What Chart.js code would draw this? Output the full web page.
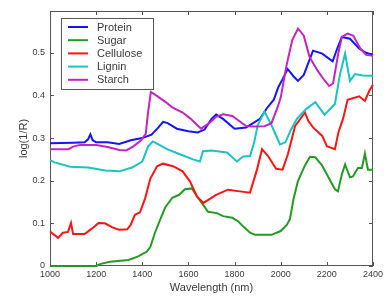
<!DOCTYPE html>
<html>
<head>
<meta charset="utf-8">
<script src="https://cdn.jsdelivr.net/npm/chart.js@4"></script>
<style>
  html, body { margin: 0; padding: 0; background: #fff; }
  #wrap { width: 387px; height: 298px; position: relative; }
</style>
</head>
<body>
<div id="wrap"><canvas id="chart"></canvas></div>
<script>
// Spectra (wavelength in nm, log(1/R))
const proteinNm = [1000, 1100, 1150, 1165, 1175, 1185, 1200, 1250, 1300, 1350, 1400, 1440, 1470, 1490, 1510, 1550, 1600, 1640, 1670, 1700, 1720, 1750, 1800, 1850, 1880, 1910, 1940, 1970, 1990, 2010, 2030, 2055, 2075, 2100, 2140, 2180, 2225, 2245, 2265, 2300, 2340, 2370, 2400];
const proteinVal = [0.288, 0.289, 0.29, 0.297, 0.309, 0.295, 0.29, 0.29, 0.286, 0.295, 0.3, 0.308, 0.325, 0.338, 0.335, 0.322, 0.316, 0.313, 0.32, 0.345, 0.355, 0.345, 0.322, 0.325, 0.335, 0.345, 0.37, 0.39, 0.42, 0.44, 0.462, 0.445, 0.434, 0.448, 0.505, 0.498, 0.48, 0.51, 0.537, 0.533, 0.51, 0.5, 0.495];

const sugarNm = [1000, 1200, 1220, 1260, 1340, 1380, 1420, 1435, 1455, 1477, 1500, 1530, 1560, 1585, 1615, 1637, 1663, 1685, 1723, 1750, 1790, 1815, 1837, 1867, 1890, 1960, 2000, 2027, 2040, 2055, 2075, 2105, 2127, 2150, 2179, 2205, 2235, 2248, 2265, 2279, 2300, 2313, 2335, 2352, 2365, 2378, 2400];
const sugarVal = [0, 0, 0.005, 0.01, 0.014, 0.022, 0.034, 0.045, 0.078, 0.108, 0.138, 0.16, 0.167, 0.18, 0.182, 0.163, 0.144, 0.127, 0.124, 0.117, 0.113, 0.105, 0.093, 0.078, 0.073, 0.073, 0.082, 0.097, 0.11, 0.156, 0.2, 0.236, 0.256, 0.255, 0.236, 0.21, 0.18, 0.175, 0.215, 0.238, 0.208, 0.21, 0.23, 0.23, 0.264, 0.226, 0.226];

const celluloseNm = [1000, 1035, 1056, 1078, 1091, 1100, 1150, 1180, 1210, 1238, 1273, 1300, 1335, 1350, 1368, 1390, 1412, 1435, 1464, 1490, 1533, 1575, 1607, 1637, 1665, 1720, 1771, 1823, 1867, 1897, 1919, 1945, 1980, 2008, 2031, 2062, 2105, 2120, 2140, 2180, 2200, 2235, 2250, 2270, 2290, 2340, 2365, 2385, 2400];
const celluloseVal = [0.081, 0.066, 0.078, 0.08, 0.101, 0.075, 0.075, 0.087, 0.101, 0.1, 0.09, 0.085, 0.086, 0.097, 0.12, 0.126, 0.158, 0.205, 0.234, 0.24, 0.234, 0.222, 0.198, 0.163, 0.148, 0.167, 0.179, 0.175, 0.172, 0.226, 0.274, 0.258, 0.228, 0.226, 0.262, 0.328, 0.36, 0.34, 0.325, 0.305, 0.281, 0.274, 0.313, 0.345, 0.39, 0.398, 0.387, 0.412, 0.425];

const ligninNm = [1000, 1020, 1087, 1165, 1240, 1300, 1355, 1400, 1425, 1445, 1470, 1507, 1563, 1620, 1650, 1663, 1700, 1767, 1810, 1837, 1867, 1885, 1900, 1930, 1960, 1997, 2020, 2045, 2070, 2110, 2150, 2190, 2235, 2257, 2279, 2300, 2322, 2355, 2400];
const ligninVal = [0.248, 0.243, 0.233, 0.231, 0.224, 0.222, 0.231, 0.245, 0.28, 0.292, 0.285, 0.274, 0.262, 0.25, 0.245, 0.269, 0.271, 0.266, 0.245, 0.257, 0.258, 0.29, 0.33, 0.362, 0.33, 0.285, 0.29, 0.32, 0.345, 0.368, 0.384, 0.355, 0.38, 0.45, 0.498, 0.434, 0.45, 0.447, 0.446];

const starchNm = [1000, 1080, 1100, 1130, 1200, 1250, 1300, 1330, 1360, 1395, 1415, 1425, 1437, 1460, 1500, 1530, 1575, 1610, 1630, 1655, 1690, 1720, 1750, 1790, 1820, 1850, 1880, 1930, 1960, 1985, 2000, 2025, 2050, 2075, 2100, 2125, 2160, 2190, 2210, 2227, 2250, 2265, 2290, 2315, 2345, 2370, 2400];
const starchVal = [0.274, 0.274, 0.28, 0.284, 0.284, 0.279, 0.272, 0.271, 0.28, 0.295, 0.31, 0.36, 0.408, 0.4, 0.385, 0.372, 0.36, 0.345, 0.335, 0.322, 0.335, 0.35, 0.356, 0.352, 0.34, 0.328, 0.327, 0.328, 0.335, 0.37, 0.395, 0.47, 0.53, 0.557, 0.54, 0.49, 0.458, 0.435, 0.422, 0.428, 0.5, 0.537, 0.545, 0.54, 0.51, 0.495, 0.493];

const seriesNames = ['Protein', 'Sugar', 'Cellulose', 'Lignin', 'Starch'];
const seriesColors = ['#1414ff', '#239b23', '#ff1414', '#18c4c4', '#c424c4'];
const xTicks = [1000, 1200, 1400, 1600, 1800, 2000, 2200, 2400];
const yTicks = [0, 0.1, 0.2, 0.3, 0.4, 0.5];

const FONT = '"Liberation Sans", Arial, sans-serif';
const AXIS_COLOR = '#555';
const TEXT_COLOR = '#3a3a3a';

const toPoints = (nm, val) => nm.map((x, i) => ({ x, y: val[i] }));
const allSeries = [
  toPoints(proteinNm, proteinVal),
  toPoints(sugarNm, sugarVal),
  toPoints(celluloseNm, celluloseVal),
  toPoints(ligninNm, ligninVal),
  toPoints(starchNm, starchVal)
];

// Matlab-like box with inward ticks (under the lines), titles and inset legend (on top)
const matlabFrame = {
  id: 'matlabFrame',
  beforeDatasetsDraw(chart) {
    const { ctx, chartArea: a, scales } = chart;
    ctx.save();
    ctx.strokeStyle = AXIS_COLOR;
    ctx.lineWidth = 1;
    ctx.strokeRect(a.left + 0.5, a.top + 0.5, a.right - a.left - 1, a.bottom - a.top - 1);

    const len = 4;
    ctx.beginPath();
    scales.x.ticks.forEach(t => {
      const px = Math.round(scales.x.getPixelForValue(t.value)) + 0.5;
      ctx.moveTo(px, a.bottom); ctx.lineTo(px, a.bottom - len);
      ctx.moveTo(px, a.top); ctx.lineTo(px, a.top + len);
    });
    scales.y.ticks.forEach(t => {
      const py = Math.round(scales.y.getPixelForValue(t.value)) + 0.5;
      ctx.moveTo(a.left, py); ctx.lineTo(a.left + len, py);
      ctx.moveTo(a.right, py); ctx.lineTo(a.right - len, py);
    });
    ctx.stroke();
    ctx.restore();
  },
  afterDraw(chart) {
    const { ctx, chartArea: a } = chart;
    ctx.save();

    // axis titles
    ctx.fillStyle = TEXT_COLOR;
    ctx.font = '11px ' + FONT;
    ctx.textAlign = 'center';
    ctx.textBaseline = 'middle';
    ctx.fillText('Wavelength (nm)', (a.left + a.right) / 2, 288);
    ctx.save();
    ctx.translate(24, (a.top + a.bottom) / 2);
    ctx.rotate(-Math.PI / 2);
    ctx.fillText('log(1/R)', 0, 0);
    ctx.restore();

    // legend
    const lx = 61, ly = 18, lw = 92, lh = 71, row = 13.2;
    ctx.fillStyle = '#fff';
    ctx.fillRect(lx, ly, lw, lh);
    ctx.strokeStyle = AXIS_COLOR;
    ctx.lineWidth = 1;
    ctx.strokeRect(lx + 0.5, ly + 0.5, lw, lh);
    ctx.textAlign = 'left';
    chart.data.datasets.forEach((ds, i) => {
      const y = ly + 9 + i * row;
      ctx.strokeStyle = ds.borderColor;
      ctx.lineWidth = 2;
      ctx.beginPath();
      ctx.moveTo(lx + 7, y); ctx.lineTo(lx + 27, y);
      ctx.stroke();
      ctx.fillStyle = TEXT_COLOR;
      ctx.fillText(ds.label, lx + 36, y + 0.5);
    });
    ctx.restore();
  }
};

new Chart(document.getElementById('chart'), {
  type: 'line',
  data: {
    datasets: allSeries.map((pts, i) => ({
      label: seriesNames[i],
      data: pts,
      borderColor: seriesColors[i],
      backgroundColor: seriesColors[i],
      borderWidth: 2,
      pointRadius: 0,
      tension: 0,
      clip: 3,
      order: seriesNames.length - i
    }))
  },
  options: {
    responsive: true,
    maintainAspectRatio: false,
    animation: false,
    devicePixelRatio: 1,
    layout: { padding: { left: 0, top: 11, right: 14, bottom: 0 } },
    plugins: { legend: { display: false }, tooltip: { enabled: false } },
    scales: {
      x: {
        type: 'linear',
        min: 1000,
        max: 2400,
        afterBuildTicks: s => { s.ticks = xTicks.map(v => ({ value: v })); },
        afterFit: s => { s.height = 32; },
        grid: { display: false, drawTicks: false },
        border: { display: false },
        ticks: { padding: 3, maxRotation: 0, color: TEXT_COLOR, font: { family: FONT, size: 9 }, callback: v => String(v) }
      },
      y: {
        type: 'linear',
        min: 0,
        max: 0.598,
        afterBuildTicks: s => { s.ticks = yTicks.map(v => ({ value: v })); },
        afterFit: s => { s.width = 50; },
        grid: { display: false, drawTicks: false },
        border: { display: false },
        ticks: { padding: 5, color: TEXT_COLOR, font: { family: FONT, size: 9 }, callback: v => String(Math.round(v * 10) / 10) }
      }
    }
  },
  plugins: [matlabFrame]
});
</script>
</body>
</html>
